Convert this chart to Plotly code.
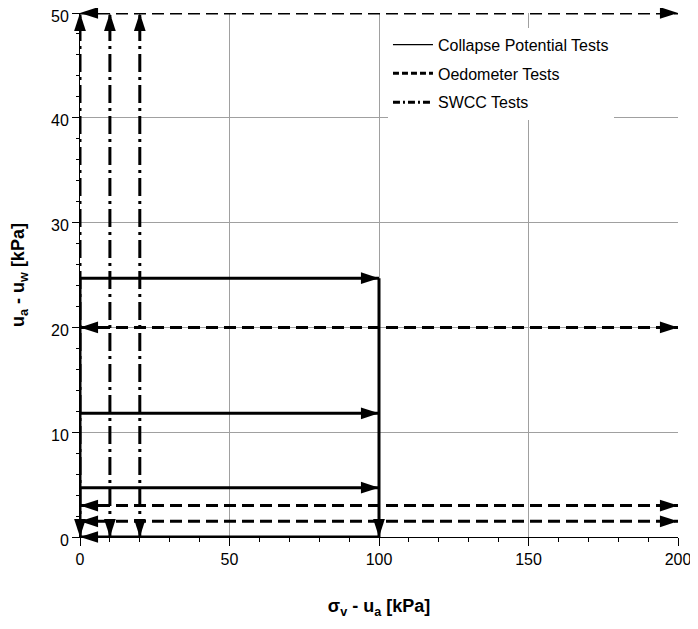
import plotly.graph_objects as go

# ---- data ----
x_max = 200
y_max = 50
collapse_suction = [24.7, 11.8, 4.7]      # ua - uw levels of collapse potential tests
collapse_net_stress = 100                 # sigma_v - ua reached in collapse tests
oedometer_suction = [50, 20, 3, 1.5]      # ua - uw levels of oedometer tests
swcc_net_stress = [0, 10, 20]             # sigma_v - ua of SWCC tests
x_ticks = [0, 50, 100, 150, 200]
y_ticks = [0, 10, 20, 30, 40, 50]
legend_names = ["Collapse Potential Tests", "Oedometer Tests", "SWCC Tests"]

LW = 3
DASH = "12px,6px"
DASHDOT = "18px,5px,3px,5px"
FONT = "Liberation Sans, Arial, sans-serif"

fig = go.Figure()

def seg(xs, ys, dash):
    fig.add_trace(go.Scatter(x=xs, y=ys, mode="lines", showlegend=False,
                             line=dict(color="black", width=LW, dash=dash),
                             cliponaxis=False, hoverinfo="skip"))

heads_x, heads_y, heads_a = [], [], []
def head(x, y, ang):
    heads_x.append(x); heads_y.append(y); heads_a.append(ang)

# SWCC tests (dash-dot verticals, arrows both ends)
for xs in swcc_net_stress:
    seg([xs, xs], [0, y_max], DASHDOT)
    head(xs, y_max, 0)
    head(xs, 0, 180)

# Oedometer tests (dashed horizontals, arrows both ends)
for ys in oedometer_suction:
    seg([0, x_max], [ys, ys], DASH)
    head(x_max, ys, 90)
    head(0, ys, 270)

# Collapse potential tests (solid)
top = max(collapse_suction)
seg([0, 0], [0, top], "solid")
for ys in collapse_suction:
    seg([0, collapse_net_stress], [ys, ys], "solid")
    head(collapse_net_stress, ys, 90)
seg([collapse_net_stress, collapse_net_stress], [top, 0], "solid")
head(collapse_net_stress, 0, 180)
seg([collapse_net_stress, 0], [0, 0], "solid")
head(0, 0, 270)

fig.add_trace(go.Scatter(x=heads_x, y=heads_y, mode="markers", showlegend=False,
                         marker=dict(symbol="arrow", size=19, angle=heads_a,
                                     color="black", line=dict(width=0)),
                         cliponaxis=False, hoverinfo="skip"))

# legend-only traces
legend_dash = ["solid", "6px,3px", "7px,3px,2px,3px"]
legend_width = [1.2, 3, 3]
for i, (name, dash, w) in enumerate(zip(legend_names, legend_dash, legend_width)):
    fig.add_trace(go.Scatter(x=[None], y=[None], mode="lines", name=name,
                             legendgroup=f"g{i}",
                             line=dict(color="black", width=w, dash=dash)))

# page body has an 8px margin, so the figure is sized/offset to compensate
fig.update_layout(
    width=690, height=621,
    margin=dict(l=72, r=20, t=5, b=92, autoexpand=False),
    plot_bgcolor="white", paper_bgcolor="white",
    font=dict(family=FONT, size=16, color="black"),
    legend=dict(x=0.515, y=0.972, xanchor="left", yanchor="top",
                bgcolor="white", borderwidth=0, font=dict(size=16),
                itemwidth=40, tracegroupgap=5, traceorder="grouped"),
    xaxis=dict(range=[0, x_max], tickvals=x_ticks, showgrid=True, gridcolor="#a0a0a0",
               gridwidth=1, showline=True, linecolor="black", linewidth=1,
               ticks="outside", ticklen=8, tickcolor="black", zeroline=False,
               automargin=False, ticklabeloverflow="allow",
               minor=dict(dtick=10, ticks="outside", ticklen=4, tickcolor="black", showgrid=False),
               title=dict(text="<b>σ<sub>v</sub> - u<sub>a</sub> [kPa]</b>", font=dict(size=18), standoff=32)),
    yaxis=dict(range=[0, y_max], tickvals=y_ticks, showgrid=True, gridcolor="#a0a0a0",
               gridwidth=1, showline=True, linecolor="black", linewidth=1,
               ticks="outside", ticklen=7, tickcolor="black", zeroline=False,
               automargin=False, ticklabeloverflow="allow", ticklabelshift=3,
               minor=dict(dtick=2, ticks="outside", ticklen=3, tickcolor="black", showgrid=False),
               title=dict(text="<b>u<sub>a</sub> - u<sub>w</sub> [kPa]</b>", font=dict(size=18), standoff=26)),
)

fig.write_html("out.html")
